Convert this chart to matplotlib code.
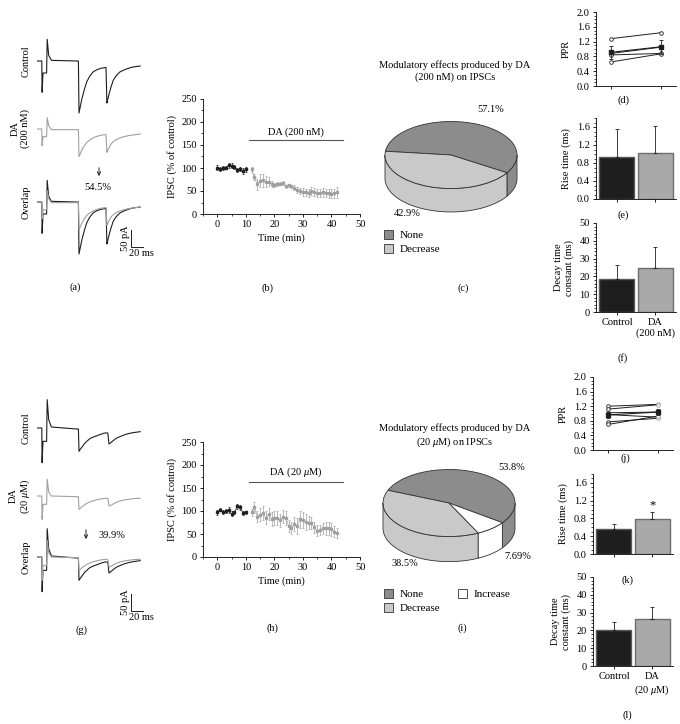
import numpy as np
import matplotlib
matplotlib.use('Agg')
import matplotlib.pyplot as plt
from matplotlib.ticker import MultipleLocator, FormatStrFormatter

plt.rcParams['font.family'] = ['Liberation Serif', 'DejaVu Serif']
plt.rcParams['font.size'] = 7.5
plt.rcParams['mathtext.fontset'] = 'custom'
plt.rcParams['mathtext.rm'] = 'Liberation Serif'
plt.rcParams['mathtext.it'] = 'Liberation Serif:italic'
plt.rcParams['axes.linewidth'] = 0.6
for k in ['xtick', 'ytick']:
    plt.rcParams[k + '.major.width'] = 0.6
    plt.rcParams[k + '.minor.width'] = 0.5
    plt.rcParams[k + '.major.size'] = 2.5
    plt.rcParams[k + '.minor.size'] = 1.5
    plt.rcParams[k + '.major.pad'] = 2

BLACK = '#1e1e1e'
GRAY = '#a0a0a0'

# --- example traces (ms, pA) ---
trace_t = [0, 8, 8.5, 10, 16, 17, 19.5, 24, 66, 69,
           70, 72, 75, 79, 83, 88, 94, 100, 106, 113,
           115, 116.5, 118, 120, 123, 127, 132, 138, 145, 152,
           160, 168, 172]
ctrl_a = [0, 0, -94, -36, -36, 65, 17, 2, 0, 0,
          -156, -138, -112, -85, -62, -45, -32, -26, -22, -20,
          -19, -126, -115, -100, -80, -58, -44, -33, -27, -22,
          -18, -16, -15]
da_a = [0, 0, -50, -23, -23, 34, 10, -2, -2, -2,
        -83, -75, -62, -50, -40, -33, -26, -22, -19, -17,
        -17, -70, -64, -56, -46, -38, -32, -27, -23, -20,
        -18, -16, -15]
ctrl_g = [0, 0, -104, -40, -40, 85, 25, 3, -3, -3,
          -70, -64, -57, -47, -40, -32, -27, -23, -19, -15,
          -15, -15, -15, -48, -44, -38, -31, -26, -21, -17,
          -14, -12, -11]
da_g = [0, 0, -70, -25, -25, 50, 12, 0, -2, -2,
        -40, -37, -32, -27, -22, -18, -14, -11, -9, -7,
        -7, -7, -8, -30, -28, -24, -19, -15, -12, -10,
        -8, -7, -7]

# --- IPSC time course (% of control) ---
t_ctrl = list(range(0, 11))
t_da = list(range(12, 43))
ipsc_ctrl_b = [101, 98, 100, 101, 106, 105, 102, 96, 98, 94, 97]
err_ctrl_b = [5, 4, 4, 4, 5, 5, 4, 5, 5, 6, 5]
ipsc_da_b = [97, 80, 65, 72, 73, 70, 70, 65, 63, 65, 66, 68, 60, 62, 60, 57,
             52, 50, 48, 47, 46, 50, 48, 46, 45, 47, 45, 45, 44, 45, 47]
err_da_b = [5, 6, 12, 14, 14, 12, 10, 6, 5, 5, 4, 4, 4, 4, 4, 5,
            6, 7, 8, 8, 9, 9, 8, 8, 9, 9, 9, 10, 10, 10, 12]
ipsc_ctrl_h = [97, 103, 98, 100, 102, 94, 97, 110, 108, 96, 97]
err_ctrl_h = [5, 4, 5, 5, 6, 5, 4, 6, 6, 4, 4]
ipsc_da_h = [97, 108, 88, 92, 95, 85, 93, 82, 85, 85, 80, 88, 85, 68, 63, 72,
             68, 82, 80, 76, 75, 73, 65, 57, 58, 62, 62, 62, 60, 55, 52]
err_da_h = [7, 12, 12, 14, 15, 14, 13, 15, 15, 15, 14, 15, 15, 13, 13, 15,
            17, 18, 17, 17, 14, 13, 12, 12, 11, 13, 14, 14, 14, 12, 11]
da_period = [11, 44]
da_bar_level = [160, 163]

# --- pies ---
pie_labels_c = ['None', 'Decrease']
pie_values_c = [57.1, 42.9]
pie_labels_i = ['None', 'Decrease', 'Increase']
pie_values_i = [53.8, 38.5, 7.69]
pie_colors = ['#8c8c8c', '#c9c9c9', '#ffffff']

# --- PPR ---
ppr_ctrl_d = [1.28, 0.88, 0.84, 0.65]
ppr_da_d = [1.44, 1.05, 0.88, 0.87]
ppr_mean_d = [0.91, 1.06]
ppr_err_d = [0.17, 0.19]
ppr_ctrl_j = [1.20, 1.12, 1.02, 0.97, 0.77, 0.70]
ppr_da_j = [1.25, 1.24, 1.04, 0.90, 0.87, 0.93]
ppr_mean_j = [0.96, 1.04]
ppr_err_j = [0.07, 0.07]

# --- rise / decay ---
groups = ['Control', 'DA']
rise_e = [0.93, 1.03]
rise_err_e = [0.62, 0.60]
decay_f = [18.5, 25.0]
decay_err_f = [8.0, 11.5]
rise_k = [0.57, 0.78]
rise_err_k = [0.10, 0.16]
decay_l = [20.5, 26.5]
decay_err_l = [4.5, 6.5]

W, H = 680, 724
fig = plt.figure(figsize=(6.8, 7.24), dpi=100)


def px_axes(x0, y0, x1, y1):
    return fig.add_axes([x0 / W, 1 - y1 / H, (x1 - x0) / W, (y1 - y0) / H])


def px_text(x, y, s, **kw):
    kw.setdefault('ha', 'center')
    kw.setdefault('va', 'center')
    fig.text(x / W, 1 - y / H, s, **kw)


def trace_axes(base):
    ax = px_axes(37, base - 30, 142, base + 60)
    ax.set_xlim(0, 175)
    ax.set_ylim(-180, 90)
    ax.axis('off')
    return ax


def trace_group(bases, ctrl, da, da_label, pct, arrow_xy, pct_xy, bar_px):
    b1, b2, b3 = bases
    ax1 = trace_axes(b1)
    ax1.plot(trace_t, ctrl, color=BLACK, lw=0.8)
    ax2 = trace_axes(b2)
    ax2.plot(trace_t, da, color=GRAY, lw=0.8)
    ax3 = trace_axes(b3)
    ax3.plot(trace_t, ctrl, color=BLACK, lw=0.8)
    ax3.plot(trace_t, da, color=GRAY, lw=0.8)
    px_text(26, b1, 'Control', rotation=90)
    px_text(20, b2, da_label, rotation=90, multialignment='center', linespacing=1.1)
    px_text(26, b3, 'Overlap', rotation=90)
    # scale bar (20 ms, 50 pA)
    bx, by = bar_px
    t0 = (bx - 37) * 175 / 105
    i0 = -(by - b3) * 3
    ax3.plot([t0, t0, t0 + 20], [i0 + 50, i0, i0], color=BLACK, lw=0.7, clip_on=False)
    px_text(bx - 6, by - 9, '50 pA', rotation=90)
    px_text(bx + 10, by + 6, '20 ms')
    ax, ay0, ay1 = arrow_xy
    fig.add_artist(matplotlib.patches.FancyArrowPatch(
        (ax / W, 1 - ay0 / H), (ax / W, 1 - ay1 / H), transform=fig.transFigure,
        arrowstyle='->', mutation_scale=6, lw=0.7, color=BLACK))
    px_text(pct_xy[0], pct_xy[1], pct)


trace_group((61, 129, 202), ctrl_a, da_a, 'DA\n(200 nM)', '54.5%',
            (99, 165, 179), (98, 187), (131, 247))
trace_group((428, 496, 557), ctrl_g, da_g, 'DA\n(20 $\\mu$M)', '39.9%',
            (86, 527, 542), (112, 535), (131, 611))


def time_course(rect, ic, ec, idd, ed, level, label):
    ax = px_axes(*rect)
    ax.errorbar(t_ctrl, ic, yerr=ec, fmt='s-', ms=1.7, lw=0.5, color=BLACK,
                elinewidth=0.5, capsize=1.0, capthick=0.5)
    ax.errorbar(t_da, idd, yerr=ed, fmt='s-', ms=1.7, lw=0.5, color=GRAY,
                elinewidth=0.5, capsize=1.0, capthick=0.5)
    ax.plot(da_period, [level, level], color='#555555', lw=0.8)
    ax.text(np.mean(da_period), level + 7, label, ha='center', va='bottom')
    ax.set_xlim(-5, 50)
    ax.set_ylim(0, 250)
    ax.xaxis.set_major_locator(MultipleLocator(10))
    ax.xaxis.set_minor_locator(MultipleLocator(5))
    ax.yaxis.set_major_locator(MultipleLocator(50))
    ax.yaxis.set_minor_locator(MultipleLocator(25))
    ax.spines[['top', 'right']].set_visible(False)
    ax.set_xlabel('Time (min)', labelpad=3)
    ax.set_ylabel('IPSC (% of control)', labelpad=3)
    return ax


time_course((203, 99, 360, 214), ipsc_ctrl_b, err_ctrl_b, ipsc_da_b, err_da_b,
            da_bar_level[0], 'DA (200 nM)')
time_course((203, 442, 360, 557), ipsc_ctrl_h, err_ctrl_h, ipsc_da_h, err_da_h,
            da_bar_level[1], 'DA (20 $\\mu$M)')


def pie3d(cx, cy, values, labels, start, depth, pcts, pct_pos, leg_xy, ncol):
    a, b = 66, 33.5
    ax = px_axes(cx - 1.25 * a, cy - 1.5 * b, cx + 1.25 * a, cy + 2.3 * b)
    wedges, _ = ax.pie(values, colors=pie_colors[:len(values)], startangle=start,
                       counterclock=True, radius=1,
                       wedgeprops=dict(edgecolor='#333333', linewidth=0.6))
    for w in wedges:
        w.set_zorder(3)
        for off in (-360, 0, 360):
            lo = max(w.theta1, 180 + off)
            hi = min(w.theta2, 360 + off)
            if hi > lo:
                th = np.radians(np.linspace(lo, hi, 80))
                xs = np.cos(th)
                ys = np.sin(th)
                ax.fill(np.r_[xs, xs[::-1]], np.r_[ys, ys[::-1] - depth],
                        facecolor=w.get_facecolor(), edgecolor='#333333',
                        lw=0.6, zorder=2)
    ax.set_aspect('auto')
    ax.set_xlim(-1.25, 1.25)
    ax.set_ylim(-2.3, 1.5)
    for s, (x, y) in zip(pcts, pct_pos):
        ax.text(x, y, s, ha='center', va='center')
    lx, ly = leg_xy
    ax.legend(wedges, labels, loc='upper left', bbox_to_anchor=(lx / W, 1 - ly / H),
              bbox_transform=fig.transFigure, frameon=False, ncol=ncol,
              handlelength=0.8, handleheight=0.8, handletextpad=0.6,
              labelspacing=0.35, columnspacing=1.6, borderpad=0, borderaxespad=0,
              fontsize=8)
    return ax


pie3d(451, 155, pie_values_c, pie_labels_c, -32, 0.7,
      ['57.1%', '42.9%'], [(0.6, 1.37), (-0.67, -1.75)], (384, 230), 1)
px_text(455, 71, 'Modulatory effects produced by DA\n(200 nM) on IPSCs',
        linespacing=1.3)
pie3d(449, 503, pie_values_i, pie_labels_i, -36, 0.75,
      ['53.8%', '38.5%', '7.69%'], [(0.95, 1.07), (-0.67, -1.8), (1.05, -1.6)],
      (384, 589), 2)
px_text(455, 436, 'Modulatory effects produced by DA\n(20 $\\mu$M) on IPSCs',
        linespacing=1.3)


def ppr_panel(rect, ctrl, da, mean, err, da_edge):
    ax = px_axes(*rect)
    for c, d in zip(ctrl, da):
        ax.plot([0, 1], [c, d], color=BLACK, lw=0.7)
        ax.plot([0], [c], 'o', mfc='white', mec=BLACK, ms=2.6, mew=0.6)
        ax.plot([1], [d], 'o', mfc='white', mec=da_edge, ms=2.6, mew=0.6)
    ax.errorbar([0, 1], mean, yerr=err, fmt='s-', color=BLACK, ms=2.6, lw=0.8,
                elinewidth=0.6, capsize=1.5, capthick=0.6)
    ax.set_xlim(-0.3, 1.3)
    ax.set_ylim(0, 2.0)
    ax.set_xticks([0, 1])
    ax.set_xticklabels([])
    ax.yaxis.set_major_locator(MultipleLocator(0.4))
    ax.yaxis.set_minor_locator(MultipleLocator(0.1))
    ax.yaxis.set_major_formatter(FormatStrFormatter('%.1f'))
    ax.spines[['top', 'right']].set_visible(False)
    ax.set_ylabel('PPR', labelpad=4)
    return ax


def bar_panel(rect, vals, errs, ylim, major, minor, fmt, ylabel, xlabels):
    ax = px_axes(*rect)
    ax.bar([0, 1], vals, width=0.92, color=[BLACK, '#a9a9a9'],
           edgecolor=['#5a5a5a', '#6e6e6e'], linewidth=1.0)
    ax.errorbar([0, 1], vals, yerr=[[0, 0], errs], fmt='none', ecolor=BLACK,
                elinewidth=0.6, capsize=1.2, capthick=0.6)
    ax.set_xlim(-0.55, 1.55)
    ax.set_ylim(*ylim)
    ax.set_xticks([0, 1])
    ax.set_xticklabels(xlabels if xlabels else [])
    ax.yaxis.set_major_locator(MultipleLocator(major))
    ax.yaxis.set_minor_locator(MultipleLocator(minor))
    ax.yaxis.set_major_formatter(FormatStrFormatter(fmt))
    ax.spines[['top', 'right']].set_visible(False)
    ax.set_ylabel(ylabel, labelpad=4, linespacing=1.1)
    return ax


ppr_panel((596, 12, 676, 86), ppr_ctrl_d, ppr_da_d, ppr_mean_d, ppr_err_d, BLACK)
bar_panel((596, 118, 676, 199), rise_e, rise_err_e, (0, 1.8), 0.4, 0.1, '%.1f',
          'Rise time (ms)', None)
bar_panel((596, 223, 676, 312), decay_f, decay_err_f, (0, 50), 10, 2, '%d',
          'Decay time\nconstant (ms)', ['Control', 'DA\n(200 nM)'])

ppr_panel((593, 377, 673, 450), ppr_ctrl_j, ppr_da_j, ppr_mean_j, ppr_err_j, GRAY)
axk = bar_panel((593, 474, 673, 554), rise_k, rise_err_k, (0, 1.8), 0.4, 0.1, '%.1f',
                'Rise time (ms)', None)
axk.text(1, rise_k[1] + rise_err_k[1] + 0.02, '*', ha='center', va='bottom', fontsize=9)
bar_panel((593, 577, 673, 666), decay_l, decay_err_l, (0, 50), 10, 2, '%d',
          'Decay time\nconstant (ms)', ['Control', 'DA\n(20 $\\mu$M)'])

for s, x, y in [('(a)', 75, 287), ('(b)', 268, 288), ('(c)', 463, 288),
                ('(d)', 623, 100), ('(e)', 623, 215), ('(f)', 623, 358),
                ('(g)', 82, 630), ('(h)', 272, 628), ('(i)', 462, 628),
                ('(j)', 625, 458), ('(k)', 627, 580), ('(l)', 627, 715)]:
    px_text(x, y, s)

fig.savefig('out.png', dpi=100)
